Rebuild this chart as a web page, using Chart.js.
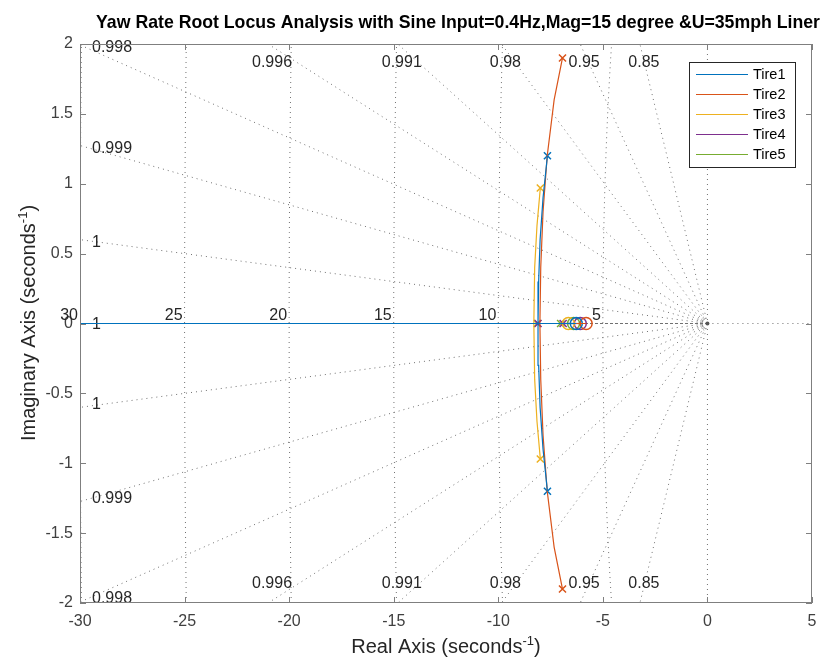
<!DOCTYPE html>
<html>
<head>
<meta charset="utf-8">
<script src="https://cdn.jsdelivr.net/npm/chart.js@4.4.0/dist/chart.umd.min.js"></script>
<style>
  html, body { margin: 0; padding: 0; background: #fff; }
  #wrap { width: 826px; height: 659px; }
</style>
</head>
<body>
<div id="wrap"><canvas id="locusChart" width="826" height="659"></canvas></div>
<script>
// 轮胎名称
const tireNames = ['Tire1', 'Tire2', 'Tire3', 'Tire4', 'Tire5'];

// 极点 (实部 / 虚部)
const poleRe = [[-7.65, -7.65], [-6.93, -6.93], [-7.99, -7.99], [-8.10, -6.90], [-8.13, -7.02]];
const poleIm = [[1.20, -1.20], [1.90, -1.90], [0.97, -0.97], [0, 0], [0, 0]];

// 零点 (实轴上)
const zeroRe = [-6.27, -5.80, -6.65, -6.08, -6.40];

// 复极点根轨迹上半支 (下半支共轭)
const arcRe = [
    [-7.65, -7.86, -8.00, -8.07, -8.10],
    [-6.93, -7.33, -7.66, -7.86, -7.97, -8.01],
    [-7.99, -8.15, -8.26, -8.30],
    [],
    []
];
const arcIm = [
    [1.20, 0.90, 0.60, 0.30, 0],
    [1.90, 1.60, 1.20, 0.80, 0.40, 0],
    [0.97, 0.70, 0.40, 0],
    [],
    []
];

// 坐标轴刻度
const xTicks = [-30, -25, -20, -15, -10, -5, 0, 5];
const yTicks = [-2, -1.5, -1, -0.5, 0, 0.5, 1, 1.5, 2];

// sgrid: 阻尼比线和自然频率圆
const dampingRatios = [0.9998, 0.9991, 0.9978, 0.9955, 0.991, 0.98, 0.95, 0.85];
const dampingLabels = ['1', '0.999', '0.998', '0.996', '0.991', '0.98', '0.95', '0.85'];
const natFreqs = [5, 10, 15, 20, 25, 30];

const colors = ['#0072BD', '#D95319', '#EDB120', '#7E2F8E', '#77AC30'];
const FONT = "'Liberation Sans', Arial, Helvetica, sans-serif";
const xMin = xTicks[0], xMax = xTicks[xTicks.length - 1];
const yMin = yTicks[0], yMax = yTicks[yTicks.length - 1];

function pts(xs, ys) {
    return xs.map((v, i) => ({x: v, y: ys[i]}));
}

// 组装数据集
const datasets = [];
tireNames.forEach((name, i) => {
    const base = {
        label: name,
        borderColor: colors[i],
        backgroundColor: colors[i],
        borderWidth: 1.2,
        showLine: true,
        pointRadius: 0,
        tension: 0
    };
    let up, down;
    if (arcRe[i].length) {
        // 上半支: 极点 -> 汇合点 -> 零点
        up = pts(arcRe[i], arcIm[i]).concat([{x: zeroRe[i], y: 0}]);
        // 下半支: 极点 -> 汇合点 -> 负无穷
        down = pts(arcRe[i], arcIm[i].map(v => -v)).concat([{x: xMin, y: 0}]);
    } else {
        // 两个实极点
        up = [{x: poleRe[i][1], y: 0}, {x: zeroRe[i], y: 0}];
        down = [{x: poleRe[i][0], y: 0}, {x: xMin, y: 0}];
    }
    datasets.push(Object.assign({}, base, {data: up}));
    datasets.push(Object.assign({}, base, {data: down, label: name + '_b'}));
});
tireNames.forEach((name, i) => {
    datasets.push({
        label: name + '_p',
        data: pts(poleRe[i], poleIm[i]),
        showLine: false,
        pointStyle: 'crossRot',
        pointRadius: 5,
        borderWidth: 1.5,
        borderColor: colors[i],
        backgroundColor: colors[i]
    });
    datasets.push({
        label: name + '_z',
        data: [{x: zeroRe[i], y: 0}],
        showLine: false,
        pointStyle: 'circle',
        pointRadius: 6,
        borderWidth: 1.5,
        borderColor: colors[i],
        backgroundColor: 'rgba(0,0,0,0)'
    });
});

// 画 sgrid
const sgridPlugin = {
    id: 'sgrid',
    beforeDatasetsDraw(chart) {
        const {ctx, chartArea: a, scales: {x, y}} = chart;
        const ox = x.getPixelForValue(0), oy = y.getPixelForValue(0);
        ctx.save();
        ctx.beginPath();
        ctx.rect(a.left, a.top, a.right - a.left, a.bottom - a.top);
        ctx.clip();
        ctx.strokeStyle = '#707070';
        ctx.lineWidth = 1;
        ctx.setLineDash([1, 4]);
        // 阻尼比线
        dampingRatios.forEach(z => {
            const t = Math.sqrt(1 - z * z) / z;
            [1, -1].forEach(s => {
                ctx.beginPath();
                ctx.moveTo(ox, oy);
                ctx.lineTo(x.getPixelForValue(xMin), y.getPixelForValue(-xMin * t * s));
                ctx.stroke();
            });
        });
        // 自然频率圆
        natFreqs.forEach(w => {
            ctx.beginPath();
            for (let k = 0; k <= 80; k++) {
                const yy = yMin + (yMax - yMin) * k / 80;
                const xx = -Math.sqrt(Math.max(w * w - yy * yy, 0));
                const px = x.getPixelForValue(xx), py = y.getPixelForValue(yy);
                if (k === 0) ctx.moveTo(px, py); else ctx.lineTo(px, py);
            }
            ctx.stroke();
        });
        // 虚轴
        ctx.beginPath();
        ctx.moveTo(ox, a.top);
        ctx.lineTo(ox, a.bottom);
        ctx.stroke();
        // 右半实轴
        ctx.beginPath();
        ctx.moveTo(ox, oy);
        ctx.lineTo(a.right, oy);
        ctx.stroke();
        // 阻尼比 1
        ctx.setLineDash([3, 2]);
        ctx.beginPath();
        ctx.moveTo(a.left, oy);
        ctx.lineTo(ox, oy);
        ctx.stroke();
        // 原点附近的小弧
        ctx.setLineDash([1, 1]);
        ctx.beginPath();
        ctx.arc(ox + 1, oy, 8, Math.PI * 0.68, Math.PI * 1.32);
        ctx.stroke();
        ctx.setLineDash([]);
        ctx.fillStyle = '#555';
        ctx.beginPath();
        ctx.arc(ox, oy, 2, 0, Math.PI * 2);
        ctx.fill();
        ctx.restore();

        // 标签
        ctx.save();
        ctx.fillStyle = '#262626';
        ctx.font = '16px ' + FONT;
        ctx.textAlign = 'right';
        ctx.textBaseline = 'alphabetic';
        natFreqs.forEach(w => {
            ctx.fillText(String(w), x.getPixelForValue(-w) - 2, oy - 4);
        });
        ctx.textBaseline = 'middle';
        dampingRatios.forEach((z, i) => {
            const t = Math.sqrt(1 - z * z) / z;
            const xTop = -yMax / t;
            if (xTop >= xMin) {
                ctx.textAlign = 'center';
                const px = x.getPixelForValue(xTop) + 4;
                ctx.fillText(dampingLabels[i], px, a.top + 19);
                ctx.fillText(dampingLabels[i], px, a.bottom - 19);
            } else {
                ctx.textAlign = 'left';
                const yl = -xMin * t;
                ctx.fillText(dampingLabels[i], a.left + 12, y.getPixelForValue(yl) + 3);
                ctx.fillText(dampingLabels[i], a.left + 12, y.getPixelForValue(-yl) - 3);
            }
        });
        ctx.textAlign = 'left';
        ctx.fillText('1', a.left + 12, oy + 1);
        ctx.restore();
    },
    afterDraw(chart) {
        const {ctx, chartArea: a, scales: {x, y}} = chart;
        ctx.save();
        // 坐标框和内向刻度
        ctx.strokeStyle = '#7f7f7f';
        ctx.lineWidth = 1;
        ctx.strokeRect(a.left + 0.5, a.top + 0.5, a.right - a.left - 1, a.bottom - a.top - 1);
        ctx.beginPath();
        xTicks.forEach(v => {
            const px = Math.round(x.getPixelForValue(v)) + 0.5;
            ctx.moveTo(px, a.bottom); ctx.lineTo(px, a.bottom - 6);
            ctx.moveTo(px, a.top); ctx.lineTo(px, a.top + 6);
        });
        yTicks.forEach(v => {
            const py = Math.round(y.getPixelForValue(v)) + 0.5;
            ctx.moveTo(a.left, py); ctx.lineTo(a.left + 6, py);
            ctx.moveTo(a.right, py); ctx.lineTo(a.right - 6, py);
        });
        ctx.stroke();

        // 图例
        const lx = 689, ly = 62, lw = 106, lh = 105;
        ctx.fillStyle = '#fff';
        ctx.fillRect(lx, ly, lw, lh);
        ctx.strokeStyle = '#262626';
        ctx.strokeRect(lx + 0.5, ly + 0.5, lw, lh);
        ctx.font = '14.5px ' + FONT;
        ctx.textBaseline = 'middle';
        ctx.textAlign = 'left';
        tireNames.forEach((name, i) => {
            const yy = ly + 12.5 + i * 20;
            ctx.strokeStyle = colors[i];
            ctx.lineWidth = 1.2;
            ctx.beginPath();
            ctx.moveTo(lx + 7, yy);
            ctx.lineTo(lx + 59, yy);
            ctx.stroke();
            ctx.fillStyle = '#000';
            ctx.fillText(name, lx + 64, yy);
        });

        // 标题
        ctx.fillStyle = '#000';
        ctx.textAlign = 'center';
        ctx.textBaseline = 'alphabetic';
        ctx.font = 'bold 17.7px ' + FONT;
        ctx.fillText('Yaw Rate Root Locus Analysis with Sine Input=0.4Hz,Mag=15 degree &U=35mph Liner', 458, 28);

        // 坐标轴标题 (带上标)
        function supLabel(main, sup, cx, cy) {
            ctx.font = '20px ' + FONT;
            const w1 = ctx.measureText(main).width;
            ctx.font = '13px ' + FONT;
            const w2 = ctx.measureText(sup).width;
            ctx.font = '20px ' + FONT;
            const w3 = ctx.measureText(')').width;
            const sx = cx - (w1 + w2 + w3) / 2;
            ctx.textAlign = 'left';
            ctx.fillStyle = '#262626';
            ctx.fillText(main, sx, cy);
            ctx.font = '13px ' + FONT;
            ctx.fillText(sup, sx + w1, cy - 8);
            ctx.font = '20px ' + FONT;
            ctx.fillText(')', sx + w1 + w2, cy);
        }
        supLabel('Real Axis (seconds', '-1', 446, 653);
        ctx.translate(35, 323);
        ctx.rotate(-Math.PI / 2);
        supLabel('Imaginary Axis (seconds', '-1', 0, 0);
        ctx.restore();
    }
};

new Chart(document.getElementById('locusChart'), {
    type: 'scatter',
    data: {datasets: datasets},
    options: {
        responsive: false,
        animation: false,
        devicePixelRatio: 1,
        layout: {padding: {top: 44, right: 14, bottom: 0, left: 0}},
        plugins: {legend: {display: false}, tooltip: {enabled: false}},
        scales: {
            x: {
                type: 'linear', min: xMin, max: xMax,
                afterBuildTicks: s => { s.ticks = xTicks.map(v => ({value: v})); },
                afterFit: s => { s.height = 56; },
                grid: {display: false, drawTicks: false},
                border: {display: false},
                ticks: {color: '#404040', font: {size: 16, family: FONT}, padding: 9,
                        callback: v => String(v)}
            },
            y: {
                type: 'linear', min: yMin, max: yMax,
                afterBuildTicks: s => { s.ticks = yTicks.map(v => ({value: v})); },
                afterFit: s => { s.width = 80; },
                grid: {display: false, drawTicks: false},
                border: {display: false},
                ticks: {color: '#404040', font: {size: 16, family: FONT}, padding: 7,
                        callback: v => String(v)}
            }
        }
    },
    plugins: [sgridPlugin]
});
</script>
</body>
</html>
